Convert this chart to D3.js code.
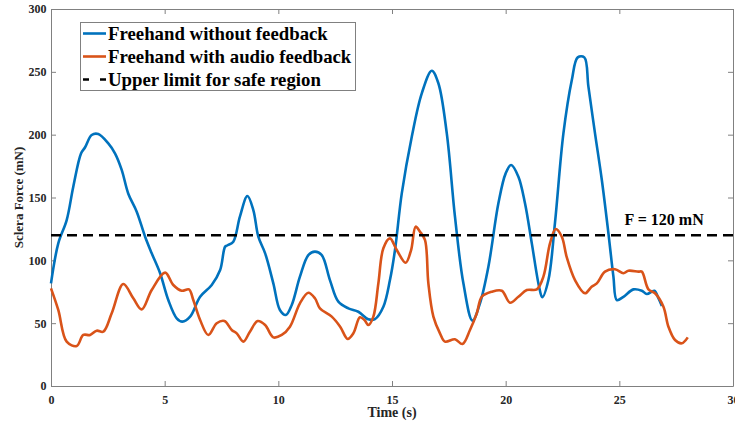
<!DOCTYPE html>
<html><head><meta charset="utf-8">
<script src="https://cdn.jsdelivr.net/npm/d3@7"></script>
<style>body{margin:0;background:#fff;} svg{display:block;}</style>
</head><body>
<svg id="chart" width="735" height="425"></svg>
<script>
const blueT = [0,0.32,0.69,0.98,1.32,1.5,1.79,2.08,2.52,2.82,3.11,3.40,3.77,4.14,4.43,4.80,5.16,5.53,5.78,6.12,6.56,7.07,7.44,7.66,7.77,8.02,8.31,8.64,8.90,9.12,9.42,9.78,10.07,10.33,10.59,10.95,11.32,11.61,11.91,12.27,12.64,13.08,13.52,13.96,14.25,14.62,14.91,15.13,15.43,15.87,16.31,16.75,17.04,17.41,17.77,18.14,18.54,18.87,19.24,19.68,20.00,20.24,20.56,20.85,21.15,21.47,21.61,21.88,22.17,22.54,22.91,23.17,23.46,23.64,23.93,24.23,24.52,24.74,24.89,25.18,25.62,25.99,26.21,26.54,26.72,26.87];
const blueV = [81.7,113.5,132,158.6,185,190,199.7,200.5,193,185,172,153,138.7,118.8,105.6,89.7,68.4,53.9,51.2,55.2,71,80.4,92.3,110.9,112,114.8,134.7,151.2,140,118.8,105.6,81.7,60.5,56.5,64.5,87,104.2,106.9,104.2,84.3,67.1,61.8,59.1,53.1,53.3,63.1,84.3,108,153.3,198.4,232.9,250.9,240.9,201,134.7,81.7,52,65.8,94.9,145.4,169.2,175.9,166.6,145.4,113.5,79,70.6,84.3,130,201,243.5,261.5,261.5,238.2,201,163.9,121.5,87,68.4,71,76.9,75.8,73.2,75.8,69.8,63.7];
const orangeT = [0,0.32,0.69,1.13,1.42,1.72,2.01,2.30,2.67,3.18,3.62,3.99,4.43,5.02,5.38,5.75,6.07,6.26,6.56,6.92,7.29,7.63,7.95,8.17,8.46,8.75,9.09,9.42,9.78,10.15,10.51,10.95,11.32,11.61,11.83,12.35,12.72,13.05,13.30,13.59,13.79,13.96,14.18,14.40,14.62,14.91,15.21,15.60,15.84,16.04,16.23,16.45,16.60,16.82,17.11,17.33,17.77,18.10,18.43,18.73,18.95,19.39,19.83,20.19,20.56,20.93,21.37,21.66,21.95,22.20,22.47,22.68,23.05,23.49,23.78,24.01,24.37,24.81,25.18,25.40,25.84,25.99,26.28,26.57,26.94,27.16,27.45,27.75,28.01];
const orangeV = [77.7,60.5,35.3,31.8,40.6,40.6,44,43.2,57.8,81.2,69.8,61,76.4,90.2,80.4,75.8,76.9,68.4,52.5,40.6,49.9,51.7,44.6,41.9,35.3,43.2,51.7,48.5,38.7,40.6,47.2,65.8,74.2,69.8,61.8,55.2,47.2,37.4,41.9,54.7,52.5,48.5,55.2,81.7,109.6,117.5,108.2,98.1,108.2,126.8,122.8,116.2,81.7,55.2,41.9,35.3,37.2,33.4,44.6,57.8,71,75,75.8,66.3,71,76.4,76.9,87,113.5,124.9,118.8,102.9,84.3,73.8,79,81.7,91,92.9,89.7,91.7,91,91,76.9,73.8,63.1,47.2,36.6,34,38.7];
const limitValue = 120;
const xTicks = [0,5,10,15,20,25,30];
const yTicks = [0,50,100,150,200,250,300];
const seriesNames = ["Freehand without feedback","Freehand with audio feedback","Upper limit for safe region"];

const svg = d3.select("#chart");
const L = 51, R = 733, T = 9, B = 386;
const x = d3.scaleLinear().domain([0,30]).range([L,R]);
const y = d3.scaleLinear().domain([0,300]).range([B,T]);
const font = "'Liberation Serif','Times New Roman',serif";
const axisCol = "#262626";

// axes box & ticks
const g = svg.append("g");
const xAxis = g.append("g").attr("transform",`translate(0,${B})`)
  .call(d3.axisBottom(x).tickValues(xTicks).tickSizeInner(-5).tickSizeOuter(0).tickPadding(9));
const yAxis = g.append("g").attr("transform",`translate(${L},0)`)
  .call(d3.axisLeft(y).tickValues(yTicks).tickSizeInner(-5).tickSizeOuter(0).tickPadding(4.5));
const xTop = g.append("g").attr("transform",`translate(0,${T})`)
  .call(d3.axisTop(x).tickValues(xTicks).tickSizeInner(-5).tickSizeOuter(0).tickFormat(""));
const yRight = g.append("g").attr("transform",`translate(${R},0)`)
  .call(d3.axisRight(y).tickValues(yTicks).tickSizeInner(-5).tickSizeOuter(0).tickFormat(""));
[xAxis,yAxis,xTop,yRight].forEach(a=>{
  a.selectAll("path,line").attr("stroke","#808080").attr("stroke-width",1);
  a.selectAll("text").attr("font-family",font).attr("font-weight","bold").attr("font-size","12px").attr("fill",axisCol);
});

// axis labels
svg.append("text").attr("x",(L+R)/2).attr("y",417).attr("text-anchor","middle")
  .attr("font-family",font).attr("font-weight","bold").attr("font-size","14px").attr("fill",axisCol).text("Time (s)");
svg.append("text").attr("transform",`translate(23,${(T+B)/2}) rotate(-90)`).attr("text-anchor","middle")
  .attr("font-family",font).attr("font-weight","bold").attr("font-size","13px").attr("fill",axisCol).text("Sclera Force (mN)");

// lines
const line = d3.line().x(d=>x(d[0])).y(d=>y(d[1])).curve(d3.curveCatmullRom.alpha(0.5));
svg.append("path").datum(blueT.map((t,i)=>[t,blueV[i]])).attr("d",line)
  .attr("fill","none").attr("stroke","#0072BD").attr("stroke-width",2.6).attr("stroke-linejoin","round");
svg.append("path").datum(orangeT.map((t,i)=>[t,orangeV[i]])).attr("d",line)
  .attr("fill","none").attr("stroke","#D95319").attr("stroke-width",2.6).attr("stroke-linejoin","round");
svg.append("line").attr("x1",x(0)).attr("x2",x(30)).attr("y1",y(limitValue)).attr("y2",y(limitValue))
  .attr("stroke","#000").attr("stroke-width",2.6).attr("stroke-dasharray","10,6");
svg.append("text").attr("x",x(25.23)).attr("y",y(limitValue)-10)
  .attr("font-family",font).attr("font-weight","bold").attr("font-size","16px").attr("fill","#000").text("F = 120 mN");

// legend
const lg = svg.append("g");
lg.append("rect").attr("x",80.5).attr("y",22.5).attr("width",275).attr("height",68)
  .attr("fill","#fff").attr("stroke","#808080").attr("stroke-width",1);
const cols = ["#0072BD","#D95319","#000"];
seriesNames.forEach((n,i)=>{
  const cy = 33.5 + i*23;
  const ln = lg.append("line").attr("x1",83).attr("x2",106).attr("y1",cy).attr("y2",cy)
    .attr("stroke",cols[i]).attr("stroke-width",2.6);
  if(i===2) ln.attr("stroke-dasharray","6,11");
  lg.append("text").attr("x",108).attr("y",cy+6.5).attr("font-family",font).attr("font-weight","bold")
    .attr("font-size","18.8px").attr("fill","#000").text(n);
});
</script>
</body></html>
